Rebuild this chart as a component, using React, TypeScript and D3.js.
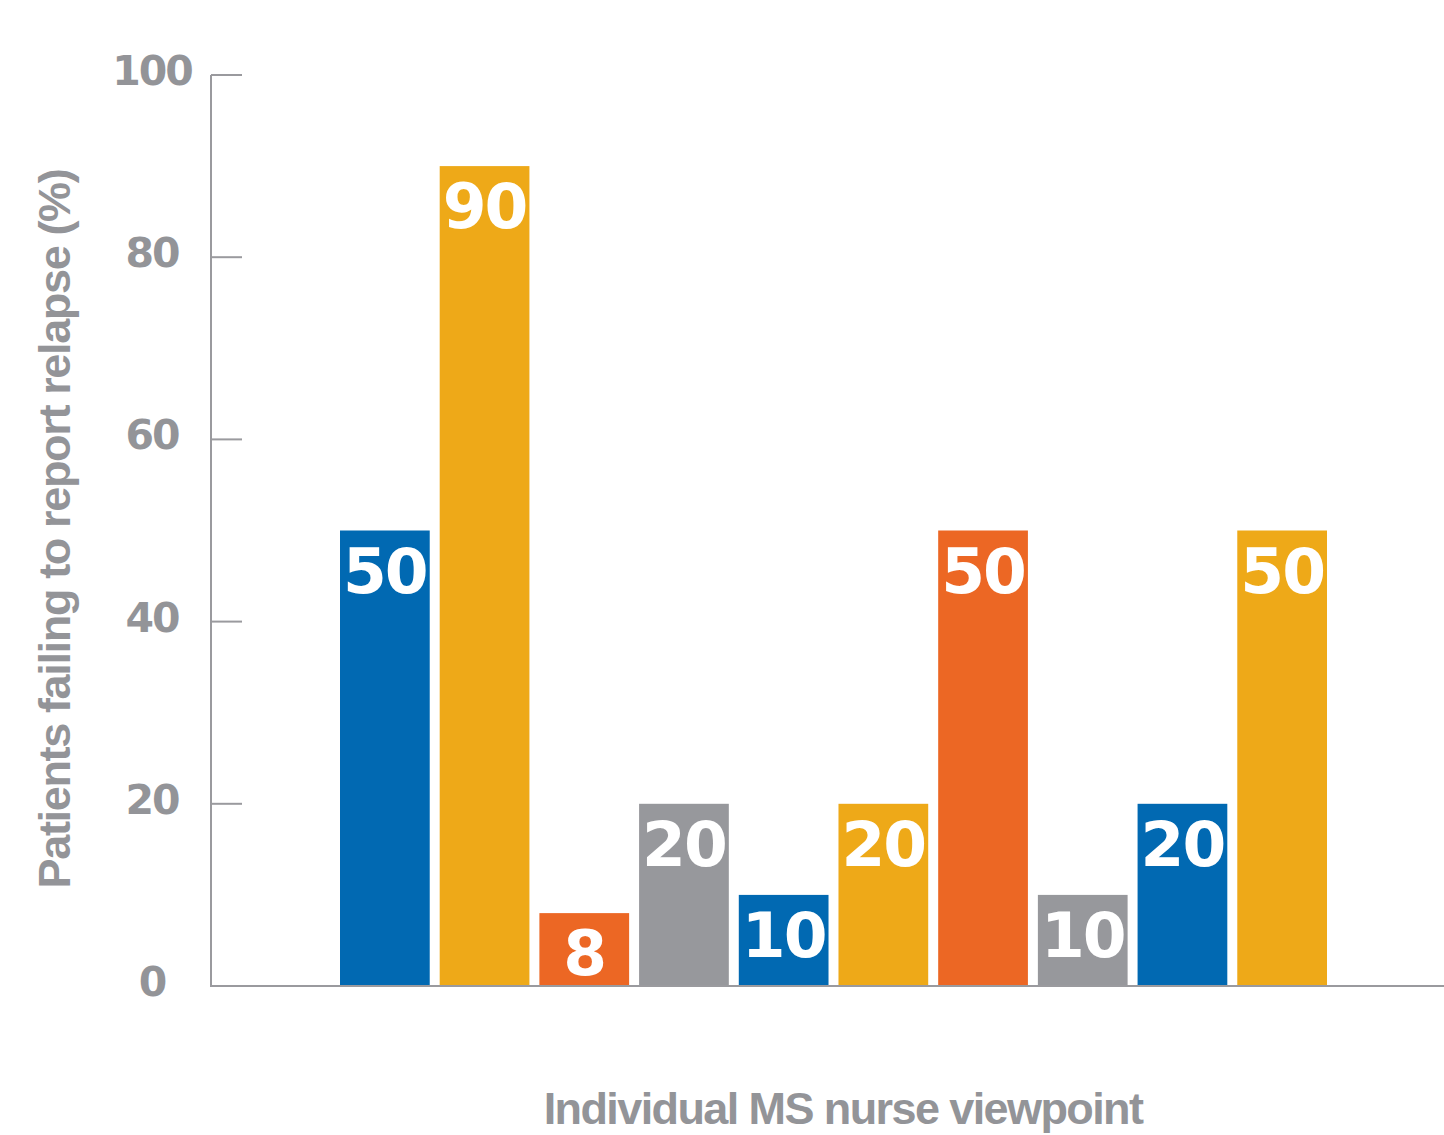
import React from "react";
import * as d3 from "d3";

const nurses = ["N1", "N2", "N3", "N4", "N5", "N6", "N7", "N8", "N9", "N10"];
const values = [50, 90, 8, 20, 10, 20, 50, 10, 20, 50];
const barColors = ["#0169B2", "#EEA918", "#EC6724", "#97989C", "#0169B2", "#EEA918", "#EC6724", "#97989C", "#0169B2", "#EEA918"];
const yTicks = [0, 20, 40, 60, 80, 100];
const yTitle = "Patients failing to report relapse (%)";
const xTitle = "Individual MS nurse viewpoint";

const W = 1444;
const H = 1135;
const AXIS = "#9A9A9E";
const TEXT = "#939498";
const NUM_FONT = "'DejaVu Sans', sans-serif";
const TITLE_FONT = "'Liberation Sans', Arial, sans-serif";

export default function App() {
  const y = d3.scaleLinear().domain([0, 100]).range([986, 75]);
  const x = d3.scaleBand<string>().domain(nurses).range([340, 1327]).paddingInner(0.1).paddingOuter(0);
  const axisX = 211;

  return (
    <svg width={W} height={H} style={{ position: "absolute", left: 0, top: 0, background: "#fff" }}>
      {nurses.map((n, i) => (
        <rect key={n} x={x(n)} y={y(values[i])} width={x.bandwidth()} height={y(0) - y(values[i])} fill={barColors[i]} />
      ))}
      {nurses.map((n, i) => (
        <text
          key={"l" + n}
          x={(x(n) as number) + x.bandwidth() / 2}
          y={y(values[i]) + 62}
          textAnchor="middle"
          fill="#fff"
          fontFamily={NUM_FONT}
          fontWeight="bold"
          fontSize={63}
          letterSpacing={-2}
        >
          {values[i]}
        </text>
      ))}
      <line x1={axisX} x2={axisX} y1={y(100)} y2={y(0)} stroke={AXIS} strokeWidth={2} />
      <line x1={axisX - 1} x2={W} y1={y(0)} y2={y(0)} stroke={AXIS} strokeWidth={2} />
      {yTicks.map((t) => (
        <g key={t}>
          <line x1={axisX} x2={242} y1={y(t)} y2={y(t)} stroke={AXIS} strokeWidth={2} />
          <text
            x={152}
            y={y(t) + 10}
            textAnchor="middle"
            fill={TEXT}
            fontFamily={NUM_FONT}
            fontWeight="bold"
            fontSize={41}
            letterSpacing={-2}
          >
            {t}
          </text>
        </g>
      ))}
      <text
        transform={`translate(70, 529) rotate(-90)`}
        textAnchor="middle"
        fill={TEXT}
        fontFamily={TITLE_FONT}
        fontWeight="bold"
        fontSize={45}
        letterSpacing={-1.35}
      >
        {yTitle}
      </text>
      <text
        x={843}
        y={1124}
        textAnchor="middle"
        fill={TEXT}
        fontFamily={TITLE_FONT}
        fontWeight="bold"
        fontSize={45}
        letterSpacing={-1.6}
      >
        {xTitle}
      </text>
    </svg>
  );
}
